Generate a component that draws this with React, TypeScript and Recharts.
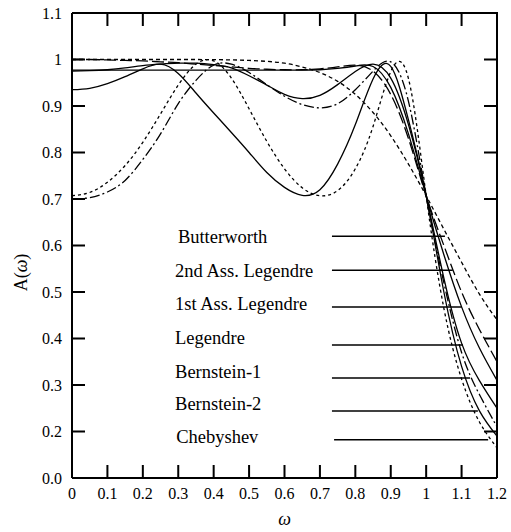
import { LineChart, Line, XAxis, YAxis, ReferenceLine, ReferenceDot } from 'recharts';

// normalised frequency samples
const omega = [0, 0.05, 0.1, 0.15, 0.2, 0.25, 0.3, 0.35, 0.4, 0.45, 0.5, 0.55, 0.6, 0.65, 0.7, 0.75, 0.8, 0.85, 0.9, 0.95, 1.0, 1.05, 1.1, 1.15, 1.2];

// amplitude responses
const butterworth = [1, 1, 1, 1, 1, 1, 1, 1, 0.9997, 0.9992, 0.998, 0.996, 0.992, 0.984, 0.972, 0.953, 0.925, 0.886, 0.836, 0.775, 0.707, 0.635, 0.564, 0.496, 0.44];
const ass2Legendre = [1, 1, 0.999, 0.998, 0.997, 0.995, 0.993, 0.99, 0.987, 0.984, 0.981, 0.979, 0.978, 0.978, 0.98, 0.984, 0.988, 0.975, 0.925, 0.83, 0.707, 0.6, 0.5, 0.42, 0.35];
const ass1Legendre = [0.977, 0.977, 0.977, 0.977, 0.977, 0.977, 0.977, 0.977, 0.977, 0.977, 0.977, 0.977, 0.977, 0.977, 0.978, 0.981, 0.986, 0.985, 0.94, 0.84, 0.707, 0.58, 0.468, 0.38, 0.31];
const legendre = [0.975, 0.976, 0.978, 0.982, 0.987, 0.99, 0.992, 0.992, 0.989, 0.982, 0.965, 0.945, 0.925, 0.916, 0.923, 0.946, 0.974, 0.99, 0.96, 0.86, 0.707, 0.53, 0.39, 0.31, 0.25];
const bernstein1 = [0.7, 0.703, 0.715, 0.74, 0.785, 0.84, 0.905, 0.955, 0.988, 0.99, 0.972, 0.946, 0.921, 0.903, 0.896, 0.905, 0.935, 0.975, 0.995, 0.91, 0.707, 0.52, 0.37, 0.28, 0.21];
const bernstein2 = [0.935, 0.938, 0.948, 0.963, 0.98, 0.99, 0.97, 0.928, 0.885, 0.843, 0.8, 0.757, 0.725, 0.708, 0.72, 0.775, 0.86, 0.958, 0.985, 0.87, 0.707, 0.5, 0.34, 0.245, 0.19];
const chebyshev = [0.707, 0.714, 0.736, 0.772, 0.822, 0.883, 0.945, 0.99, 0.997, 0.96, 0.894, 0.824, 0.765, 0.724, 0.707, 0.718, 0.765, 0.856, 0.974, 0.959, 0.707, 0.465, 0.313, 0.221, 0.165];

const xTicks = [0, 0.1, 0.2, 0.3, 0.4, 0.5, 0.6, 0.7, 0.8, 0.9, 1, 1.1, 1.2];
const yTicks = [0.1, 0.2, 0.3, 0.4, 0.5, 0.6, 0.7, 0.8, 0.9, 1, 1.1];

// labels with their leader lines
const labelNames = ['Butterworth', '2nd Ass. Legendre', '1st Ass. Legendre', 'Legendre', 'Bernstein-1', 'Bernstein-2', 'Chebyshev'];
const labelX = [0.299, 0.291, 0.291, 0.291, 0.291, 0.291, 0.294];
const labelY = [0.605, 0.532, 0.461, 0.388, 0.315, 0.246, 0.175];
const leaderY = [0.62, 0.547, 0.468, 0.386, 0.315, 0.244, 0.182];
const leaderStart = [0.734, 0.734, 0.734, 0.734, 0.734, 0.734, 0.74];
const leaderEnd = [1.053, 1.075, 1.1, 1.104, 1.124, 1.146, 1.175];

const X_MIN = 0;
const X_MAX = 1.2;
const Y_MIN = 0.1;
const Y_MAX = 1.1;

// chart box
const W = 511;
const H = 532;
const M = { top: 13, right: 14, bottom: 24, left: 12 };
const Y_AXIS_W = 60;
const X_AXIS_H = 30;
const TICK = 13;

const data = omega.map((w, i) => ({
  w,
  butterworth: butterworth[i],
  ass2Legendre: ass2Legendre[i],
  ass1Legendre: ass1Legendre[i],
  legendre: legendre[i],
  bernstein1: bernstein1[i],
  bernstein2: bernstein2[i],
  chebyshev: chebyshev[i],
}));

const series = [
  { key: 'butterworth', dash: '4 3' },
  { key: 'ass2Legendre', dash: '12 4' },
  { key: 'ass1Legendre', dash: undefined },
  { key: 'legendre', dash: undefined },
  { key: 'bernstein1', dash: '10 3 2 3' },
  { key: 'bernstein2', dash: undefined },
  { key: 'chebyshev', dash: '3 3' },
];

const FONT = '"Liberation Serif", "DejaVu Serif", serif';

const fmtY = (v: number) => {
  if (Math.abs(v - 0.1) < 1e-6) return '0.0';
  if (Math.abs(v - 1) < 1e-6) return '1';
  return v.toFixed(1);
};
const fmtX = (v: number) => (v === 0 ? '0' : Math.abs(v - 1) < 1e-6 ? '1' : String(v));

const legendText = (name: string) => (props: any) => {
  const vb = props.viewBox || {};
  return (
    <text x={vb.x} y={vb.y} fontSize={18.5} fontFamily={FONT} fill="#000">
      {name}
    </text>
  );
};

export default function App() {
  // plot rectangle (same geometry recharts gets from margin + axis sizes)
  const left = M.left + Y_AXIS_W;
  const top = M.top;
  const right = W - M.right;
  const bottom = H - M.bottom - X_AXIS_H;
  const sx = (v: number) => left + ((v - X_MIN) / (X_MAX - X_MIN)) * (right - left);
  const sy = (v: number) => bottom - ((v - Y_MIN) / (Y_MAX - Y_MIN)) * (bottom - top);
  const innerX = xTicks.filter((t) => t > X_MIN && t < X_MAX);
  const innerY = yTicks.filter((t) => t > Y_MIN && t < Y_MAX);

  const tickPath = [
    `M${left},${top}H${right}V${bottom}`,
    ...innerX.map((t) => `M${sx(t)},${bottom}v${-TICK}M${sx(t)},${top}v${TICK}`),
    ...innerY.map((t) => `M${left},${sy(t)}h${TICK}M${right},${sy(t)}h${-TICK}`),
  ].join('');

  return (
    <div style={{ position: 'absolute', left: 0, top: 0, width: W, height: H, background: '#fff' }}>
      <LineChart width={W} height={H} data={data} margin={M}>
        <XAxis
          dataKey="w"
          type="number"
          domain={[X_MIN, X_MAX]}
          ticks={xTicks}
          tickFormatter={fmtX}
          height={X_AXIS_H}
          tickSize={0}
          tickLine={false}
          tickMargin={10}
          interval={0}
          stroke="#000"
          strokeWidth={2}
          tick={{ fill: '#000', fontSize: 16, fontFamily: FONT }}
          label={(props: any) => {
            const vb = props.viewBox;
            return (
              <text x={vb.x + vb.width / 2} y={525} textAnchor="middle" fontSize={18} fontStyle="italic" fontFamily={FONT} fill="#000">
                ω
              </text>
            );
          }}
        />
        <YAxis
          type="number"
          domain={[Y_MIN, Y_MAX]}
          ticks={yTicks}
          tickFormatter={fmtY}
          width={Y_AXIS_W}
          tickSize={0}
          tickLine={false}
          tickMargin={10}
          interval={0}
          stroke="#000"
          strokeWidth={2}
          tick={{ fill: '#000', fontSize: 16, fontFamily: FONT }}
          label={(props: any) => {
            const vb = props.viewBox;
            const cx = 21;
            const cy = vb.y + vb.height / 2 + 27;
            return (
              <text x={cx} y={cy} textAnchor="middle" dominantBaseline="central" transform={`rotate(-90 ${cx} ${cy})`} fontSize={18} fontFamily={FONT} fill="#000">
                A(<tspan fontStyle="italic">ω</tspan>)
              </text>
            );
          }}
        />
        {series.map((s) => (
          <Line
            key={s.key}
            dataKey={s.key}
            type="natural"
            stroke="#000"
            strokeWidth={1.3}
            strokeDasharray={s.dash}
            dot={false}
            activeDot={false}
            isAnimationActive={false}
          />
        ))}
        {labelNames.map((name, i) => (
          <ReferenceLine
            key={`lead-${name}`}
            segment={[
              { x: leaderStart[i], y: leaderY[i] },
              { x: leaderEnd[i], y: leaderY[i] },
            ]}
            stroke="#000"
            strokeWidth={1.5}
          />
        ))}
        {labelNames.map((name, i) => (
          <ReferenceDot
            key={`lbl-${name}`}
            x={labelX[i]}
            y={labelY[i]}
            r={0}
            fill="none"
            stroke="none"
            label={legendText(name)}
          />
        ))}
      </LineChart>
      {/* frame top/right edges and inward ticks */}
      <svg width={W} height={H} style={{ position: 'absolute', left: 0, top: 0, pointerEvents: 'none' }}>
        <path d={tickPath} fill="none" stroke="#000" strokeWidth={2} />
      </svg>
    </div>
  );
}
